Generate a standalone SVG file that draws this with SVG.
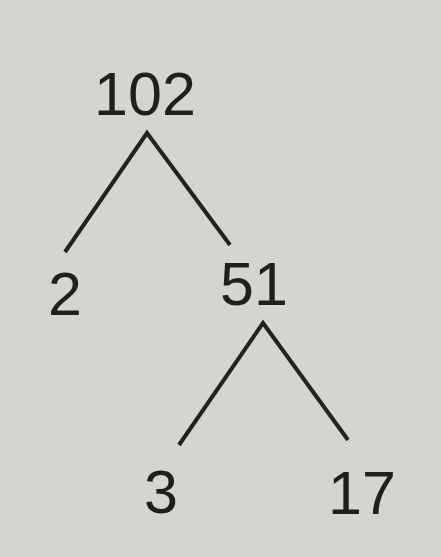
<svg xmlns="http://www.w3.org/2000/svg" width="441" height="557" viewBox="0 0 441 557">
<style>
.n{font-family:"Liberation Sans",Arial,sans-serif;font-size:61px;fill:#1f1f1f;text-anchor:middle}
.e{stroke:#222;stroke-width:4;fill:none;stroke-linecap:butt;stroke-linejoin:miter}
</style>
<rect width="441" height="557" fill="#d4d5cf"/>
<g id="connectors">
<path class="e" d="M65 252 L147 133 L230 245"/>
<path class="e" d="M179 445 L263 323 L348 440"/>
</g>
<g id="n102"><text class="n" x="145" y="115">102</text></g>
<g id="n2"><text class="n" x="65" y="315">2</text></g>
<g id="n51"><text class="n" x="254" y="305">51</text></g>
<g id="n3"><text class="n" x="161" y="513">3</text></g>
<g id="n17"><text class="n" x="362" y="514">17</text></g>
</svg>
